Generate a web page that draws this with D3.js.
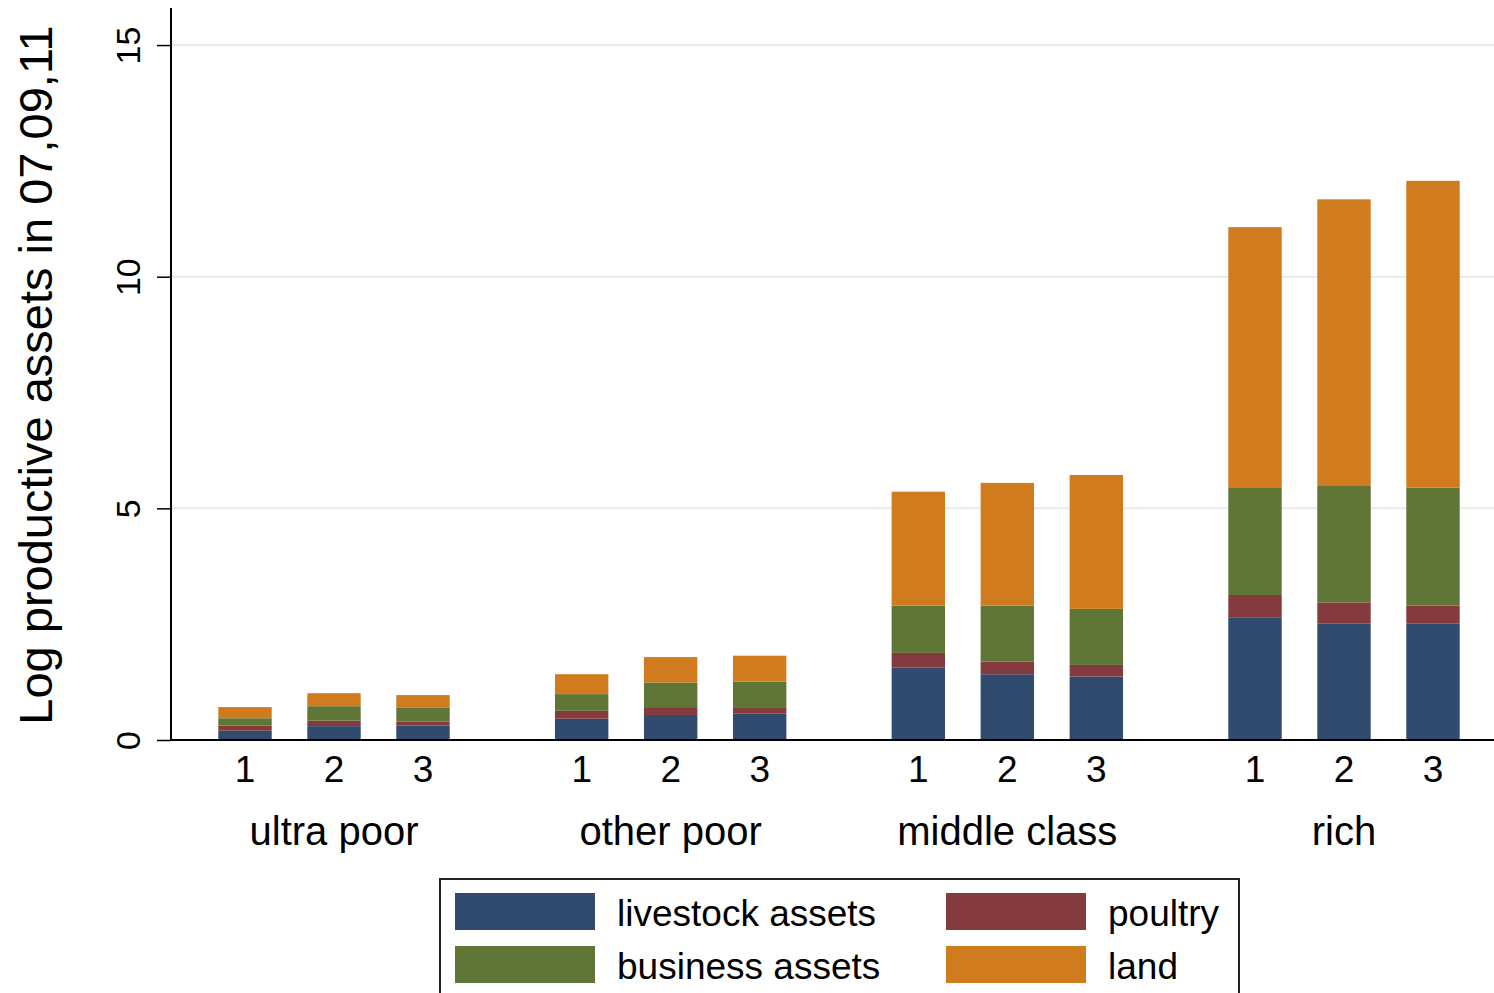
<!DOCTYPE html>
<html><head><meta charset="utf-8">
<script src="https://cdn.jsdelivr.net/npm/d3@7"></script>
<style>body{margin:0;background:#fff}svg{display:block}text{font-family:"Liberation Sans",Arial,sans-serif;fill:#000}</style>
</head><body><svg id="c" width="1494" height="993"></svg>
<script>
const groups = ["ultra poor","other poor","middle class","rich"];
const rounds = ["1","2","3"];
const seriesNames = ["livestock assets","poultry","business assets","land"];
const seriesColors = ["#304b6e","#853a3e","#5f7636","#d07c1e"];
// values per group, per round (1,2,3)
const livestock = [[0.20,0.30,0.31],[0.46,0.54,0.575],[1.56,1.42,1.37],[2.65,2.51,2.51]];
const poultry   = [[0.11,0.12,0.085],[0.17,0.17,0.115],[0.32,0.27,0.25],[0.48,0.46,0.39]];
const business  = [[0.16,0.31,0.31],[0.36,0.53,0.57],[1.02,1.21,1.21],[2.31,2.53,2.55]];
const land      = [[0.24,0.28,0.265],[0.43,0.55,0.56],[2.46,2.65,2.89],[5.63,6.17,6.62]];
const yTicks = [0,5,10,15];

const seriesData = [livestock,poultry,business,land];
const rows = [];
groups.forEach((g,gi)=>rounds.forEach((r,ri)=>{
  const row={group:g,round:r};
  seriesNames.forEach((s,si)=>row[s]=seriesData[si][gi][ri]);
  rows.push(row);
}));
const stack = d3.stack().keys(seriesNames)(rows);

const svg = d3.select("#c");
const y = d3.scaleLinear().domain([0,15.8]).range([740,8]);
const gx = d3.scalePoint().domain(groups).range([334,1344]);
const ix = d3.scaleBand().domain(rounds).range([-133.5,133.5]).paddingInner(0.4).paddingOuter(0.2);
const xLeft=171, xRight=1494;

// gridlines
svg.append("g").selectAll("line").data(yTicks.filter(t=>t>0)).join("line")
  .attr("x1",xLeft).attr("x2",xRight).attr("y1",d=>y(d)).attr("y2",d=>y(d))
  .attr("stroke","#eaeaea").attr("stroke-width",2);

// bars
const color = d3.scaleOrdinal().domain(seriesNames).range(seriesColors);
svg.append("g").selectAll("g").data(stack).join("g").attr("fill",d=>color(d.key))
  .selectAll("rect").data(d=>d).join("rect")
  .attr("x",d=>gx(d.data.group)+ix(d.data.round))
  .attr("width",ix.bandwidth())
  .attr("y",d=>y(d[1])).attr("height",d=>y(d[0])-y(d[1]));

// y axis
const yAxis = svg.append("g").attr("transform",`translate(${xLeft},0)`)
  .call(d3.axisLeft(y).tickValues(yTicks).tickSize(14).tickPadding(0).tickFormat(d3.format("d")));
yAxis.select(".domain").attr("stroke","#000").attr("stroke-width",2).attr("d",`M0,${y(0)}V${y(15.8)}`);
yAxis.selectAll(".tick line").attr("stroke","#000").attr("stroke-width",1.5);
yAxis.selectAll(".tick text").attr("font-size",34).attr("fill","#000")
  .attr("x",null).attr("dy",null).attr("text-anchor","middle")
  .attr("transform","translate(-31,0) rotate(-90)");

// x axis line
svg.append("line").attr("x1",xLeft).attr("x2",xRight).attr("y1",y(0)).attr("y2",y(0))
  .attr("stroke","#000").attr("stroke-width",2);

// round labels
svg.append("g").selectAll("text").data(rows).join("text")
  .attr("x",d=>gx(d.group)+ix(d.round)+ix.bandwidth()/2).attr("y",782)
  .attr("text-anchor","middle").attr("font-size",37).text(d=>d.round);
// group labels
svg.append("g").selectAll("text").data(groups).join("text")
  .attr("x",d=>gx(d)).attr("y",845).attr("text-anchor","middle").attr("font-size",40).text(d=>d);

// y title
svg.append("text").attr("transform","translate(52,375) rotate(-90)").attr("text-anchor","middle")
  .attr("font-size",47).text("Log productive assets in 07,09,11");

// legend
const lg = svg.append("g");
lg.append("rect").attr("x",440).attr("y",879).attr("width",799).attr("height",130)
  .attr("fill","#fff").attr("stroke","#222").attr("stroke-width",2);
const legendPos = [[455,893],[946,893],[455,946],[946,946]];
seriesNames.forEach((s,i)=>{
  const [lx,ly]=legendPos[i];
  lg.append("rect").attr("x",lx).attr("y",ly).attr("width",140).attr("height",37).attr("fill",color(s));
  lg.append("text").attr("x",lx+162).attr("y",ly+33).attr("font-size",37).text(s);
});
</script></body></html>
